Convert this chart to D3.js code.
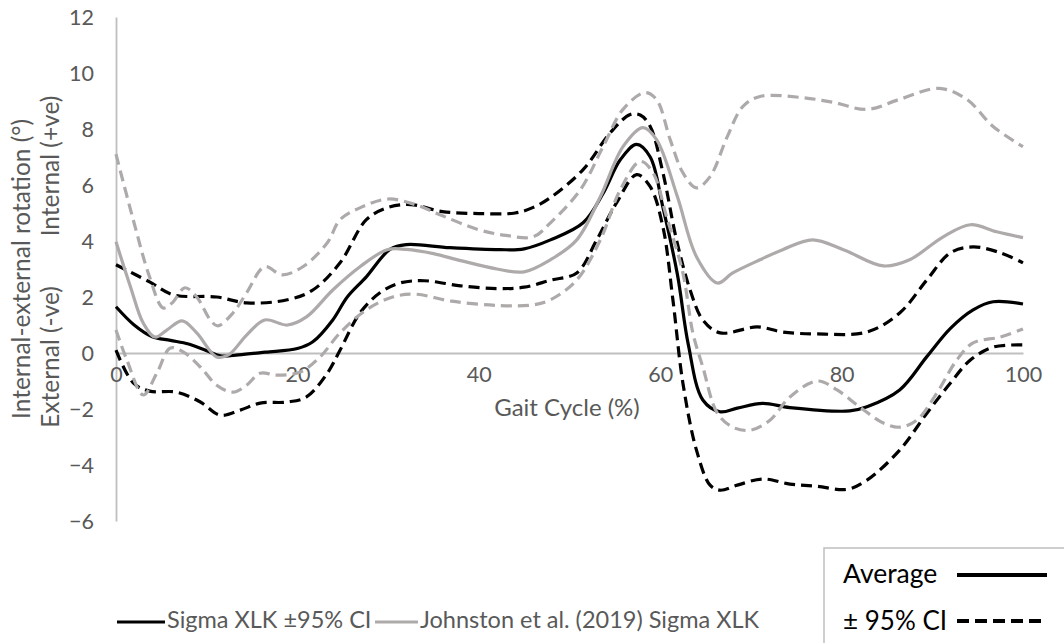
<!DOCTYPE html>
<html>
<head>
<meta charset="utf-8">
<script src="https://cdn.jsdelivr.net/npm/d3@7"></script>
<style>
  html, body { margin: 0; padding: 0; background: #fff; }
  svg { display: block; }
  text { font-family: Lato, "Open Sans", sans-serif; }
</style>
</head>
<body>
<svg id="chart" width="1064" height="643"></svg>
<script>
// ---------- DATA (gait cycle %, rotation °) ----------
const xTicks = [0, 20, 40, 60, 80, 100];
const yTicks = [-6, -4, -2, 0, 2, 4, 6, 8, 10, 12];

const sigmaAvg = [[0,1.65],[2,1.0],[4,0.58],[6,0.45],[8,0.32],[10,0.08],[11.5,-0.1],[13.5,-0.07],[16.5,0.03],[20,0.16],[21.7,0.4],[23.9,1.18],[25.5,2.0],[27.6,2.72],[30.2,3.7],[32,3.87],[36.8,3.76],[42.3,3.69],[45,3.72],[47.9,4.04],[51.5,4.65],[53.7,5.7],[55.6,6.9],[57.4,7.45],[58.9,7.0],[60.3,5.2],[61.9,2.8],[63.1,0.3],[64.7,-1.68],[66.6,-2.1],[68.5,-1.97],[71.3,-1.8],[74.3,-1.95],[80.9,-2.07],[82.8,-1.92],[86.4,-1.32],[89.4,-0.13],[92,0.88],[94.5,1.54],[96.7,1.83],[100,1.75]];

const sigmaUpper = [[0,3.15],[3.7,2.54],[6.3,2.08],[11.1,2.0],[14.4,1.79],[18.9,1.9],[21.7,2.25],[24.7,3.22],[27.6,4.76],[30,5.2],[32.5,5.3],[36,5.05],[40,4.98],[44,5.0],[46,5.2],[47.9,5.55],[51.5,6.55],[54.5,7.87],[56.7,8.52],[57.8,8.5],[58.9,8.09],[60.3,6.44],[61.8,4.04],[63.3,2.25],[64.7,1.18],[66.6,0.72],[70.7,0.93],[73.5,0.75],[77.3,0.68],[82.8,0.75],[86.4,1.43],[89.4,2.61],[92,3.58],[94.5,3.79],[97.5,3.58],[100,3.22]];

const sigmaLower = [[0,0.1],[1.9,-1.07],[3.7,-1.36],[6.7,-1.4],[9.3,-1.75],[11.5,-2.22],[13.7,-2.04],[15.9,-1.79],[18.9,-1.75],[21,-1.57],[23.3,-0.72],[24.7,0.1],[26.9,1.43],[29.1,2.15],[31.3,2.5],[34,2.58],[38,2.4],[42,2.3],[45,2.35],[47.9,2.6],[50.8,2.86],[53,4.04],[55.2,5.37],[57.4,6.37],[58.9,5.94],[60.3,4.5],[61.4,1.9],[62.5,-1.07],[64,-3.47],[65.5,-4.72],[66.6,-4.9],[68.5,-4.72],[71.3,-4.5],[74.3,-4.68],[77.3,-4.76],[80.6,-4.87],[82.8,-4.54],[86.4,-3.47],[89.4,-2.15],[92,-1.07],[94.2,-0.25],[96.7,0.21],[100,0.29]];

const johnstonAvg = [[0,3.97],[1.6,2.36],[3,1.07],[4.3,0.57],[5.6,0.82],[7.3,1.15],[8.9,0.72],[11.1,-0.14],[12.4,-0.07],[14.4,0.64],[16.4,1.18],[18.9,1.0],[21,1.29],[23.9,2.25],[26.9,3.08],[29.9,3.69],[32,3.7],[35,3.55],[38,3.3],[42,3.0],[45,2.9],[47.9,3.33],[50.8,4.04],[53.4,5.58],[55.9,7.37],[58.1,8.05],[59.6,7.62],[61.9,5.58],[64,3.44],[66.3,2.5],[68,2.86],[71,3.33],[73.5,3.69],[76.8,4.04],[80.2,3.69],[84.6,3.11],[87.5,3.33],[91.2,4.15],[94.2,4.58],[97.1,4.33],[100,4.12]];

const johnstonUpper = [[0,7.1],[1.9,4.76],[3.7,2.72],[5.2,1.61],[6.2,1.79],[7.6,2.33],[8.9,2.0],[10.4,1.18],[11.2,0.97],[12.9,1.43],[14.4,2.15],[16.4,3.08],[18.3,2.79],[20.6,3.08],[23.3,3.94],[24.7,4.76],[27,5.2],[30,5.5],[33,5.3],[36,4.9],[40,4.4],[43,4.2],[46,4.15],[47.9,4.65],[51.2,5.83],[53.7,7.37],[55.9,8.7],[58.3,9.3],[59.6,9.05],[61.1,7.62],[62.5,6.44],[64,5.9],[65.5,6.3],[67.4,7.73],[69.1,8.8],[71,9.16],[75.4,9.13],[79.1,8.95],[82.8,8.7],[86.4,9.06],[90.8,9.45],[93.8,9.06],[96.7,8.09],[100,7.37]];

const johnstonLower = [[0,0.82],[1.2,-0.25],[3,-1.5],[4.5,-0.72],[6,0.18],[7.4,0.04],[9.3,-0.5],[11.1,-1.15],[12.9,-1.4],[14.4,-1.15],[15.9,-0.72],[17.7,-0.79],[20.3,-0.68],[22.5,-0.14],[24.7,0.72],[27.6,1.54],[30.5,2.0],[33,2.1],[37,1.85],[42,1.7],[46,1.72],[47.9,1.9],[50.8,2.61],[53.4,4.04],[55.6,5.83],[57.8,6.84],[59.2,6.44],[60.7,4.87],[62.5,2.86],[63.6,0.72],[64.7,-0.5],[66.3,-2.15],[68,-2.65],[69.9,-2.76],[72.1,-2.4],[74.3,-1.57],[77.3,-1.0],[79.5,-1.32],[82,-1.93],[84.6,-2.5],[86.4,-2.65],[88.3,-2.4],[90.5,-1.43],[92.7,-0.25],[94.5,0.36],[97.5,0.57],[100,0.86]];

const seriesNames = ["Sigma XLK \u00B195% CI", "Johnston et al. (2019) Sigma XLK"];
const styleNames = ["Average", "\u00B1 95% CI"];

// ---------- CHART ----------
const svg = d3.select("#chart");
const BLACK = "#000000", GREY = "#aeaaaa", AXIS = "#bfbfbf", LABEL = "#595959";

const x = d3.scaleLinear().domain([0, 100]).range([116, 1023]);
const y = d3.scaleLinear().domain([-6, 12]).range([521, 17]);

// y axis
const yAxis = svg.append("g").attr("transform", `translate(${x(0)},0)`)
  .call(d3.axisLeft(y).tickValues(yTicks).tickSize(0).tickPadding(22).tickFormat(d3.format("d")));
yAxis.select(".domain").attr("stroke", AXIS).attr("stroke-width", 1.8);
yAxis.selectAll("text").attr("fill", LABEL).style("font-size", "21.5px").attr("dy", "0.35em");

// x axis at zero
const xAxis = svg.append("g").attr("transform", `translate(0,${y(0)})`)
  .call(d3.axisBottom(x).tickValues(xTicks).tickSize(0).tickPadding(19).tickFormat(d3.format("d")));
xAxis.select(".domain").attr("stroke", AXIS).attr("stroke-width", 1.8);
xAxis.selectAll("text").attr("fill", LABEL).style("font-size", "21.5px").attr("dy", "0.45em");

// axis titles
svg.append("text").attr("x", 567).attr("y", 410)
  .attr("text-anchor", "middle").attr("dominant-baseline", "middle")
  .attr("fill", LABEL).style("font-size", "24px").text("Gait Cycle (%)");

svg.append("text").attr("transform", `translate(24,${(y(12) + y(-6)) / 2}) rotate(-90)`)
  .attr("text-anchor", "middle").attr("dominant-baseline", "middle")
  .attr("fill", LABEL).style("font-size", "24.5px").text("Internal-external rotation (\u00B0)");
svg.append("text").attr("transform", `translate(53,166) rotate(-90)`)
  .attr("text-anchor", "middle").attr("dominant-baseline", "middle")
  .attr("fill", LABEL).style("font-size", "24.5px").text("Internal (+ve)");
svg.append("text").attr("transform", `translate(53,357) rotate(-90)`)
  .attr("text-anchor", "middle").attr("dominant-baseline", "middle")
  .attr("fill", LABEL).style("font-size", "24.5px").text("External (-ve)");

// lines
const line = d3.line().x(d => x(d[0])).y(d => y(d[1])).curve(d3.curveCatmullRom.alpha(0.5));
const series = [
  { data: sigmaUpper, color: BLACK, dash: "11,6" },
  { data: sigmaLower, color: BLACK, dash: "11,6" },
  { data: sigmaAvg, color: BLACK, dash: null },
  { data: johnstonUpper, color: GREY, dash: "11,6" },
  { data: johnstonLower, color: GREY, dash: "11,6" },
  { data: johnstonAvg, color: GREY, dash: null }
];
svg.append("g").selectAll("path").data(series).join("path")
  .attr("d", d => line(d.data))
  .attr("fill", "none")
  .attr("stroke", d => d.color)
  .attr("stroke-width", 3.2)
  .attr("stroke-dasharray", d => d.dash);

// bottom legend
const leg = svg.append("g");
const legItems = [
  { name: seriesNames[0], color: BLACK, x0: 117, x1: 165 },
  { name: seriesNames[1], color: GREY, x0: 375, x1: 418 }
];
legItems.forEach(it => {
  leg.append("line").attr("x1", it.x0).attr("x2", it.x1).attr("y1", 622).attr("y2", 622)
    .attr("stroke", it.color).attr("stroke-width", 3);
  leg.append("text").attr("x", it.x1 + 2).attr("y", 622).attr("dominant-baseline", "middle")
    .attr("fill", LABEL).style("font-size", "23.5px").text(it.name);
});

// style legend box
const box = svg.append("g");
box.append("rect").attr("x", 824).attr("y", 548).attr("width", 260).attr("height", 120)
  .attr("fill", "#fff").attr("stroke", AXIS).attr("stroke-width", 1.5);
box.append("text").attr("x", 843).attr("y", 576).attr("dominant-baseline", "middle")
  .attr("fill", "#000").style("font-size", "26.5px").text(styleNames[0]);
box.append("line").attr("x1", 957).attr("x2", 1047).attr("y1", 575).attr("y2", 575)
  .attr("stroke", BLACK).attr("stroke-width", 4);
box.append("text").attr("x", 843).attr("y", 623).attr("dominant-baseline", "middle")
  .attr("fill", "#000").style("font-size", "26px").text(styleNames[1]);
box.append("line").attr("x1", 957).attr("x2", 1047).attr("y1", 621).attr("y2", 621)
  .attr("stroke", BLACK).attr("stroke-width", 4).attr("stroke-dasharray", "12,6");
</script>
</body>
</html>
